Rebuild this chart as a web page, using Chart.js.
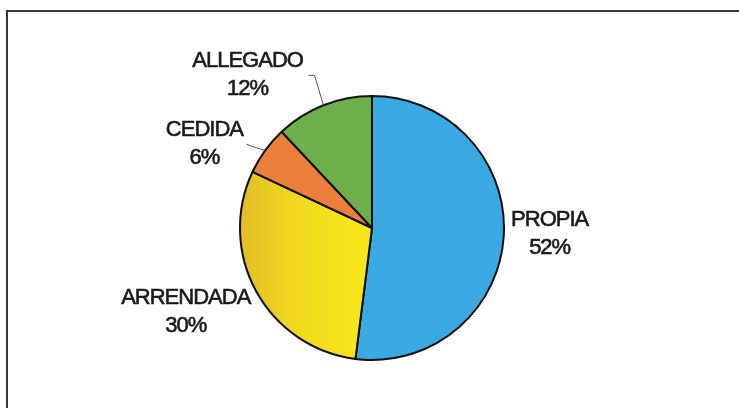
<!DOCTYPE html>
<html>
<head>
<meta charset="utf-8">
<script src="https://cdn.jsdelivr.net/npm/chart.js@4.4.1/dist/chart.umd.min.js"></script>
<style>
  body { margin: 0; background: #fff; }
  #wrap { position: relative; width: 739px; height: 408px; overflow: hidden; }
  #frame { position: absolute; left: 6px; top: 10px; width: 780px; height: 460px; border: 2px solid #3a3a3a; }
  #pie { position: absolute; left: 0; top: 0; }
</style>
</head>
<body>
<div id="wrap">
  <div id="frame"></div>
  <canvas id="pie" width="739" height="408"></canvas>
</div>
<script>
var categorias = ['PROPIA', 'ARRENDADA', 'CEDIDA', 'ALLEGADO'];
var porcentajes = [52, 30, 6, 12];
var colores = ['#3aa9e4', '#f3dc1e', '#ec7f3c', '#6db04b'];

// nudges for the data labels, relative to the slice direction
var ajusteEtiquetas = [
    { dist: 178, dx: 0, dy: -5 },
    { dist: 200, dx: -11, dy: -12 },
    { dist: 180, dx: -22, dy: 22 },
    { dist: 175, dx: -60, dy: 10 }
];
var conLinea = [false, false, true, true];

var etiquetasPlugin = {
    id: 'etiquetas',
    afterDatasetsDraw: function(chart) {
        var ctx = chart.ctx;
        var meta = chart.getDatasetMeta(0);
        ctx.save();
        ctx.font = '22px "Liberation Sans", Arial, sans-serif';
        ctx.fillStyle = '#1a1a1a';
        ctx.strokeStyle = '#1a1a1a';
        ctx.textAlign = 'center';
        ctx.textBaseline = 'middle';
        if ('letterSpacing' in ctx) ctx.letterSpacing = '-1px';
        meta.data.forEach(function(arc, i) {
            var p = arc.getProps(['x', 'y', 'startAngle', 'endAngle', 'outerRadius'], true);
            var mid = (p.startAngle + p.endAngle) / 2;
            var aj = ajusteEtiquetas[i];
            var lx = p.x + Math.cos(mid) * aj.dist + aj.dx;
            var ly = p.y + Math.sin(mid) * aj.dist + aj.dy;
            ctx.lineWidth = 0.6;
            ctx.fillText(categorias[i], lx, ly - 14);
            ctx.strokeText(categorias[i], lx, ly - 14);
            ctx.fillText(porcentajes[i] + '%', lx, ly + 14);
            ctx.strokeText(porcentajes[i] + '%', lx, ly + 14);
            if (conLinea[i]) {
                var ex = p.x + Math.cos(mid) * p.outerRadius;
                var ey = p.y + Math.sin(mid) * p.outerRadius;
                ctx.strokeStyle = '#555';
                ctx.lineWidth = 1;
                ctx.beginPath();
                if (i === 3) {
                    ctx.moveTo(lx + 61, ly);
                    ctx.lineTo(lx + 67, ly);
                    ctx.lineTo(ex, ey);
                } else {
                    ctx.moveTo(lx + 42, ly);
                    ctx.lineTo(lx + 50, ly + 3);
                    ctx.lineTo(ex, ey);
                }
                ctx.stroke();
                ctx.strokeStyle = '#1a1a1a';
            }
        });
        ctx.restore();
    }
};

function rellenoAmarillo(context) {
    var area = context.chart.chartArea;
    if (!area) return colores[1];
    var g = context.chart.ctx.createLinearGradient(area.left, 0, area.left + 120, 0);
    g.addColorStop(0, '#e2bd26');
    g.addColorStop(0.45, '#f1d81f');
    g.addColorStop(1, '#f8e61a');
    return g;
}

new Chart(document.getElementById('pie'), {
    type: 'pie',
    data: {
        labels: categorias,
        datasets: [{
            data: porcentajes,
            backgroundColor: function(context) {
                return context.dataIndex === 1 ? rellenoAmarillo(context) : colores[context.dataIndex];
            },
            borderColor: '#111',
            borderWidth: 2
        }]
    },
    options: {
        responsive: false,
        animation: false,
        layout: { padding: { left: 239, right: 234, top: 95, bottom: 47 } },
        plugins: {
            legend: { display: false },
            tooltip: { enabled: false }
        }
    },
    plugins: [etiquetasPlugin]
});
</script>
</body>
</html>
